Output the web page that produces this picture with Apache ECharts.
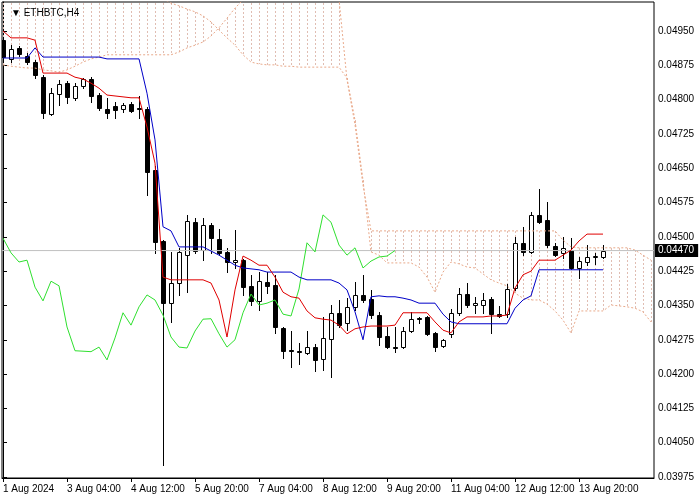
<!DOCTYPE html>
<html><head><meta charset="utf-8">
<script src="https://cdn.jsdelivr.net/npm/echarts@6/dist/echarts.min.js"></script>
<style>html,body{margin:0;padding:0;background:#fff}#c{width:700px;height:500px}</style>
</head><body><div id="c"></div>
<script>
// ---- data (ETHBTC, H4, bar index 0 = 1 Aug 2024 20:00) ----
const timeLabels = ['1 Aug 2024','3 Aug 04:00','4 Aug 12:00','5 Aug 20:00','7 Aug 04:00','8 Aug 12:00','9 Aug 20:00','11 Aug 04:00','12 Aug 12:00','13 Aug 20:00'];
const labelBars = [0,8,16,24,32,40,48,56,64,72];
const priceTicks = [0.03975,0.04050,0.04125,0.04200,0.04275,0.04350,0.04425,0.04500,0.04575,0.04650,0.04725,0.04800,0.04875,0.04950];
const lastPrice = 0.04470;

const opens = [0.04930,0.04889,0.04913,0.04895,0.04882,0.04849,0.04769,0.04812,0.04836,0.04804,
0.04830,0.04845,0.04810,0.04779,0.04786,0.04779,0.04790,0.04782,0.04779,0.04646,
0.04491,0.04355,0.04399,0.04460,0.04532,0.04471,0.04526,0.04495,0.04467,0.04445,
0.04449,0.04393,0.04360,0.04401,0.04395,0.04301,0.04253,0.04251,0.04246,0.04259,
0.04233,0.04277,0.04334,0.04312,0.04347,0.04373,0.04364,0.04329,0.04283,0.04259,
0.04259,0.04294,0.04323,0.04325,0.04290,0.04262,0.04288,0.04334,0.04375,0.04351,
0.04351,0.04364,0.04331,0.04331,0.04388,0.04487,0.04467,0.04548,0.04537,0.04480,
0.04465,0.04471,0.04432,0.04445,0.04456,0.04456];
const closes = [0.04893,0.04911,0.04900,0.04882,0.04854,0.04771,0.04814,0.04834,0.04806,0.04830,
0.04845,0.04808,0.04782,0.04771,0.04777,0.04788,0.04775,0.04780,0.04642,0.04489,
0.04355,0.04399,0.04467,0.04535,0.04469,0.04526,0.04497,0.04465,0.04445,0.04449,
0.04390,0.04360,0.04403,0.04393,0.04303,0.04251,0.04250,0.04249,0.04259,0.04231,
0.04279,0.04334,0.04307,0.04347,0.04373,0.04362,0.04329,0.04281,0.04259,0.04257,
0.04294,0.04320,0.04321,0.04288,0.04259,0.04275,0.04334,0.04375,0.04351,0.04355,
0.04362,0.04331,0.04327,0.04386,0.04487,0.04467,0.04548,0.04532,0.04482,0.04460,
0.04476,0.04432,0.04447,0.04456,0.04458,0.04470];
const lows = [0.04887,0.04882,0.04895,0.04878,0.04847,0.04760,0.04766,0.04788,0.04793,0.04799,
0.04825,0.04795,0.04777,0.04760,0.04760,0.04773,0.04773,0.04760,0.04591,0.04465,
0.04001,0.04314,0.04373,0.04379,0.04465,0.04449,0.04465,0.04460,0.04423,0.04432,
0.04373,0.04351,0.04340,0.04377,0.04290,0.04235,0.04215,0.04222,0.04244,0.04207,
0.04209,0.04194,0.04303,0.04296,0.04340,0.04358,0.04323,0.04264,0.04257,0.04248,
0.04257,0.04292,0.04312,0.04285,0.04251,0.04259,0.04281,0.04329,0.04347,0.04334,
0.04334,0.04290,0.04325,0.04325,0.04384,0.04460,0.04465,0.04530,0.04478,0.04458,
0.04454,0.04430,0.04410,0.04438,0.04441,0.04454];
const highs = [0.04935,0.04919,0.04917,0.04902,0.04887,0.04854,0.04825,0.04843,0.04841,0.04836,
0.04847,0.04849,0.04814,0.04804,0.04795,0.04793,0.04795,0.04808,0.04784,0.04655,
0.04493,0.04467,0.04476,0.04548,0.04541,0.04541,0.04530,0.04517,0.04476,0.04515,
0.04452,0.04417,0.04423,0.04423,0.04417,0.04303,0.04294,0.04268,0.04294,0.04266,
0.04325,0.04351,0.04362,0.04366,0.04401,0.04417,0.04384,0.04336,0.04303,0.04303,
0.04303,0.04336,0.04325,0.04327,0.04292,0.04277,0.04342,0.04388,0.04399,0.04369,
0.04377,0.04369,0.04349,0.04397,0.04500,0.04522,0.04554,0.04605,0.04576,0.04487,
0.04500,0.04497,0.04456,0.04482,0.04465,0.04482];

const tenkan = [0.04950,0.04935,0.04935,0.04935,0.04930,0.04858,0.04858,0.04858,0.04858,0.04849,
0.04845,0.04836,0.04825,0.04810,0.04808,0.04806,0.04804,0.04804,0.04740,0.04661,
0.04412,0.04406,0.04406,0.04406,0.04406,0.04406,0.04399,0.04362,0.04281,0.04384,
0.04458,0.04449,0.04438,0.04438,0.04412,0.04379,0.04369,0.04366,0.04338,0.04323,
0.04320,0.04318,0.04307,0.04288,0.04299,0.04303,0.04305,0.04305,0.04305,0.04307,
0.04334,0.04334,0.04334,0.04334,0.04314,0.04296,0.04290,0.04314,0.04325,0.04325,
0.04325,0.04327,0.04327,0.04329,0.04388,0.04417,0.04425,0.04449,0.04449,0.04449,
0.04460,0.04471,0.04491,0.04506,0.04506,0.04506];
const kijun = [0.04891,0.04891,0.04891,0.04891,0.04913,0.04893,0.04893,0.04893,0.04893,0.04893,
0.04893,0.04893,0.04893,0.04889,0.04889,0.04889,0.04889,0.04889,0.04814,0.04712,
0.04522,0.04513,0.04478,0.04478,0.04478,0.04478,0.04469,0.04460,0.04449,0.04438,
0.04432,0.04430,0.04428,0.04423,0.04423,0.04423,0.04423,0.04412,0.04406,0.04406,
0.04406,0.04406,0.04399,0.04384,0.04336,0.04275,0.04369,0.04371,0.04369,0.04369,
0.04366,0.04362,0.04355,0.04355,0.04355,0.04331,0.04314,0.04310,0.04310,0.04310,
0.04310,0.04310,0.04310,0.04310,0.04344,0.04362,0.04371,0.04428,0.04428,0.04428,
0.04428,0.04428,0.04428,0.04428,0.04428,0.04428];
const chikou = [0.04497,0.04465,0.04445,0.04449,0.04390,0.04360,0.04403,0.04393,0.04303,0.04251,
0.04250,0.04249,0.04259,0.04231,0.04279,0.04334,0.04307,0.04347,0.04373,0.04362,
0.04329,0.04281,0.04259,0.04257,0.04294,0.04320,0.04321,0.04288,0.04259,0.04275,
0.04334,0.04375,0.04351,0.04355,0.04362,0.04331,0.04327,0.04386,0.04487,0.04467,
0.04548,0.04532,0.04482,0.04460,0.04476,0.04432,0.04447,0.04456,0.04458,0.04470];
const spanA = [0.05020,0.05020,0.05020,0.05020,0.05020,0.05020,0.05020,0.05020,0.05020,0.05020,
0.05020,0.05020,0.05020,0.05020,0.05020,0.05020,0.05020,0.05020,0.05020,0.05020,
0.05020,0.05011,0.05005,0.04998,0.04992,0.04983,0.04970,0.04952,0.04935,0.04919,
0.04898,0.04882,0.04878,0.04876,0.04876,0.04873,0.04873,0.04871,0.04871,0.04871,
0.04871,0.04871,0.04871,0.04847,0.04755,0.04624,0.04467,0.04460,0.04443,0.04443,
0.04443,0.04443,0.04434,0.04412,0.04379,0.04423,0.04445,0.04441,0.04434,0.04432,
0.04419,0.04406,0.04399,0.04393,0.04377,0.04366,0.04362,0.04362,0.04353,0.04338,
0.04318,0.04290,0.04338,0.04338,0.04338,0.04338,0.04351,0.04349,0.04347,0.04344,
0.04336,0.04314];
const spanB = [0.04876,0.04873,0.04871,0.04869,0.04869,0.04865,0.04863,0.04860,0.04865,0.04873,
0.04882,0.04889,0.04893,0.04898,0.04898,0.04898,0.04898,0.04898,0.04898,0.04898,
0.04898,0.04898,0.04904,0.04913,0.04919,0.04926,0.04939,0.04957,0.04978,0.05000,
0.05018,0.05020,0.05020,0.05020,0.05020,0.05020,0.05020,0.05020,0.05020,0.05020,
0.05020,0.05020,0.05020,0.04843,0.04745,0.04613,0.04513,0.04513,0.04513,0.04513,
0.04513,0.04513,0.04513,0.04513,0.04513,0.04513,0.04513,0.04513,0.04513,0.04513,
0.04513,0.04513,0.04513,0.04513,0.04513,0.04513,0.04513,0.04513,0.04513,0.04513,
0.04493,0.04478,0.04476,0.04476,0.04476,0.04476,0.04476,0.04476,0.04476,0.04471,
0.04460,0.04449];

// ---- build ----
const FONT = 'Liberation Sans';
const CLOUD = '#e9a98a';
const HATCH = '#e0bdb2';
const X_MIN = -0.125, X_MAX = 81.375;
const candleData = opens.map((o, i) => [i, o, closes[i], lows[i], highs[i]]);
const cloudData = spanA.map((a, i) => [i, a, spanB[i]]);
const idx = arr => arr.map((v, i) => [i, v]);

function renderCandle(params, api) {
  const k = api.value(0), o = api.value(1), c = api.value(2), l = api.value(3), h = api.value(4);
  const pO = api.coord([k, o]), pC = api.coord([k, c]), pL = api.coord([k, l]), pH = api.coord([k, h]);
  const x = Math.round(pO[0]);
  const yTop = Math.round(Math.min(pO[1], pC[1])), yBot = Math.round(Math.max(pO[1], pC[1]));
  const children = [{
    type: 'line',
    shape: { x1: x + 0.5, y1: Math.round(pH[1]), x2: x + 0.5, y2: Math.round(pL[1]) + 1 },
    style: { stroke: '#000', lineWidth: 1 }
  }];
  if (yBot - yTop < 1) {
    children.push({ type: 'line', shape: { x1: x - 2, y1: yTop + 0.5, x2: x + 3, y2: yTop + 0.5 }, style: { stroke: '#000', lineWidth: 1 } });
  } else {
    children.push({ type: 'rect', shape: { x: x - 1.5, y: yTop + 0.5, width: 4, height: yBot - yTop },
      style: { fill: c >= o ? '#fff' : '#000', stroke: '#000', lineWidth: 1 } });
  }
  return { type: 'group', children };
}
function renderHatch(params, api) {
  const k = api.value(0);
  const p1 = api.coord([k, api.value(1)]), p2 = api.coord([k, api.value(2)]);
  const x = Math.round(p1[0]) + 0.5;
  return { type: 'line', shape: { x1: x, y1: Math.round(Math.min(p1[1], p2[1])), x2: x, y2: Math.round(Math.max(p1[1], p2[1])) },
    style: { stroke: HATCH, lineWidth: 1, lineDash: [2, 2] } };
}

const chart = echarts.init(document.getElementById('c'), null, { renderer: 'canvas' });
chart.setOption({
  animation: false,
  backgroundColor: '#fff',
  title: { text: '\u25BC ETHBTC,H4', left: 6, top: 3,
    textStyle: { fontSize: 10, fontWeight: 'normal', color: '#000', fontFamily: FONT } },
  grid: { left: 2, right: 46, top: 2, bottom: 22, show: true, borderColor: '#000', borderWidth: 1, backgroundColor: 'transparent' },
  xAxis: {
    type: 'value', min: X_MIN, max: X_MAX,
    axisLine: { show: true, lineStyle: { color: '#000', width: 1 } },
    axisTick: { show: true, customValues: labelBars, length: 4, lineStyle: { color: '#000' } },
    axisLabel: { customValues: labelBars, align: 'left', margin: 6, fontSize: 10, color: '#000', fontFamily: FONT,
      formatter: v => timeLabels[labelBars.indexOf(Math.round(v))] || '' },
    splitLine: { show: false }
  },
  yAxis: {
    type: 'value', position: 'right', min: 0.039728, max: 0.050134,
    axisLine: { show: true, lineStyle: { color: '#000', width: 1 } },
    axisTick: { show: true, customValues: priceTicks, length: 4, lineStyle: { color: '#000' } },
    axisLabel: { customValues: priceTicks, margin: 4, fontSize: 10, color: '#000', fontFamily: FONT,
      formatter: v => v.toFixed(5) },
    splitLine: { show: false }
  },
  series: [
    { type: 'custom', name: 'Kumo', renderItem: renderHatch, data: cloudData, clip: true, silent: true,
      encode: { x: 0, y: [1, 2] } },
    { type: 'line', name: 'Senkou A', data: idx(spanA), symbol: 'none', clip: true, silent: true,
      lineStyle: { color: CLOUD, width: 1, type: [2, 2] } },
    { type: 'line', name: 'Senkou B', data: idx(spanB), symbol: 'none', clip: true, silent: true,
      lineStyle: { color: CLOUD, width: 1, type: [2, 2] } },
    { type: 'line', name: 'Bid', data: [[X_MIN, lastPrice], [X_MAX, lastPrice]], symbol: 'none', clip: false, silent: true,
      lineStyle: { color: '#c0c0c0', width: 1 },
      endLabel: { show: true, distance: 1, formatter: () => lastPrice.toFixed(5),
        color: '#fff', backgroundColor: '#000', padding: [2, 4, 1, 3], fontSize: 10, fontFamily: FONT } },
    { type: 'custom', name: 'ETHBTC', renderItem: renderCandle, data: candleData, clip: true, silent: true,
      encode: { x: 0, y: [1, 2, 3, 4] } },
    { type: 'line', name: 'Chikou', data: idx(chikou), symbol: 'none', clip: true, silent: true,
      lineStyle: { color: '#2fe02f', width: 1 } },
    { type: 'line', name: 'Kijun', data: idx(kijun), symbol: 'none', clip: true, silent: true,
      lineStyle: { color: '#0000c8', width: 1 } },
    { type: 'line', name: 'Tenkan', data: idx(tenkan), symbol: 'none', clip: true, silent: true,
      lineStyle: { color: '#e00000', width: 1 } }
  ]
});
</script>
</body></html>
